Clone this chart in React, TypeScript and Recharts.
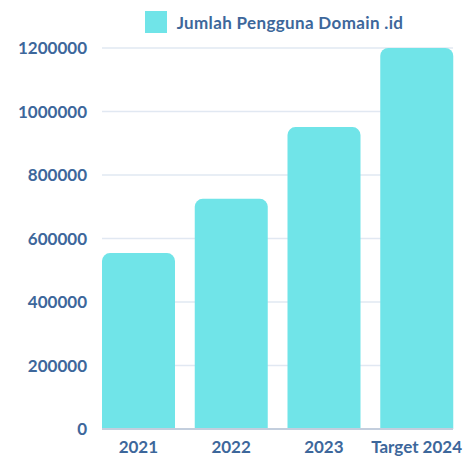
import React from "react";
import {
  BarChart,
  Bar,
  XAxis,
  YAxis,
  CartesianGrid,
  Legend
} from "recharts";

const years = ["2021", "2022", "2023", "Target 2024"];
const users = [554000, 725000, 951000, 1200000];
const yTicks = [0, 200000, 400000, 600000, 800000, 1000000, 1200000];

const seriesName = "Jumlah Pengguna Domain .id";
const barColor = "#70e4e8";
const textColor = "#3d679b";
const fontFamily = "Lato, 'Open Sans', sans-serif";

const data = years.map((year, i) => ({ year, users: users[i] }));

function LegendBox() {
  return (
    <div
      style={{
        display: "flex",
        alignItems: "center",
        justifyContent: "center",
        gap: 10,
        fontFamily,
        fontWeight: 700,
        fontSize: 17,
        letterSpacing: 0.35,
        color: textColor
      }}
    >
      <span
        style={{ width: 22, height: 22, background: barColor, display: "inline-block" }}
      />
      <span>{seriesName}</span>
    </div>
  );
}

export default function App() {
  return (
    <div style={{ width: 468, height: 457 }}>
      <style>{`body{margin:0}`}</style>
      <BarChart
        width={468}
        height={457}
        data={data}
        margin={{ top: 48, right: 15, bottom: 0, left: 0 }}
        barCategoryGap={10}
      >
        <CartesianGrid vertical={false} stroke="#e1e8f2" strokeWidth={1.5} />
        <XAxis
          dataKey="year"
          height={28}
          padding={{ left: -10, right: -10 }}
          tickLine={false}
          axisLine={{ stroke: "#c3cedd", strokeWidth: 2 }}
          tickMargin={6}
          tick={{ fill: textColor, fontSize: 17, fontWeight: 700, fontFamily }}
        />
        <YAxis
          width={102}
          domain={[0, 1200000]}
          ticks={yTicks}
          interval={0}
          axisLine={false}
          tickLine={false}
          tickMargin={9}
          tick={{ fill: textColor, fontSize: 17, fontWeight: 700, fontFamily }}
        />
        <Legend
          verticalAlign="middle"
          wrapperStyle={{ top: 11, left: 40, width: 468 }}
          content={() => <LegendBox />}
        />
        <Bar
          dataKey="users"
          name={seriesName}
          fill={barColor}
          radius={[8, 8, 0, 0]}
          isAnimationActive={false}
        />
      </BarChart>
    </div>
  );
}
